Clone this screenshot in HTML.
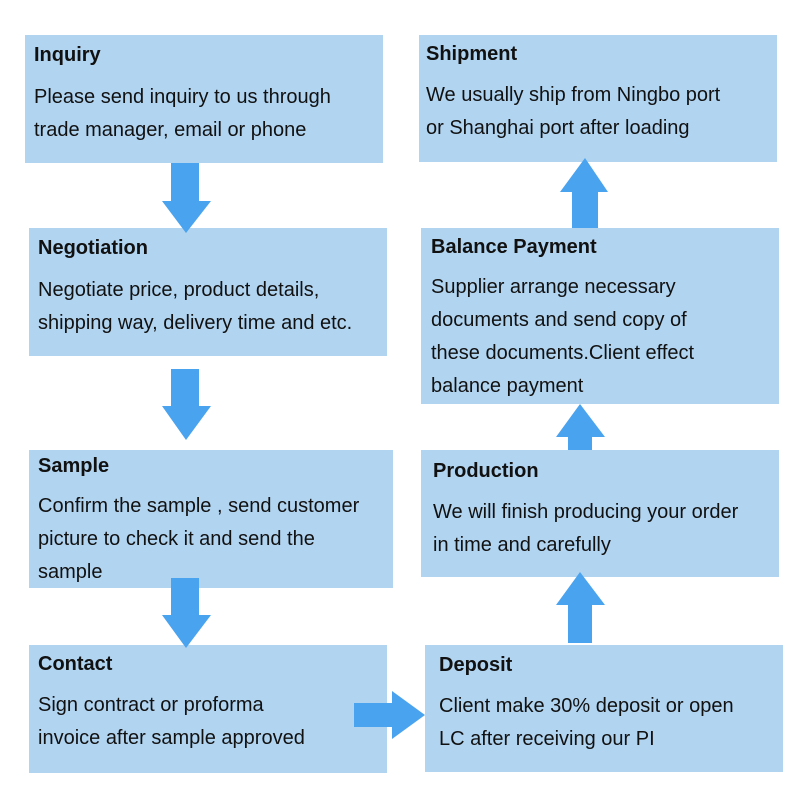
<!DOCTYPE html>
<html><head><style>
body{margin:0;width:800px;height:800px;background:#fff;position:relative;font-family:"Liberation Sans",Arial,sans-serif;overflow:hidden}
.b{position:absolute;background:#b1d4f1;color:#111;box-sizing:border-box;padding-left:9px}
.t{font-weight:bold;font-size:20px;position:absolute;left:9px}
.d{font-size:20px;line-height:33px;position:absolute;left:9px;white-space:nowrap}
svg{position:absolute;left:0;top:0}
</style></head><body>
<div class="b" style="left:25px;top:35px;width:358px;height:128px"><div class="t" style="top:9px">Inquiry</div><div class="d" style="top:46px">Please send inquiry to us through<br>trade manager, email or phone</div></div>
<div class="b" style="left:29px;top:228px;width:358px;height:128px"><div class="t" style="top:9px">Negotiation</div><div class="d" style="top:46px">Negotiate price, product details,<br>shipping way, delivery time and etc.</div></div>
<div class="b" style="left:29px;top:450px;width:364px;height:138px"><div class="t" style="top:5px">Sample</div><div class="d" style="top:40px">Confirm the sample , send customer<br>picture to check it and send the<br>sample</div></div>
<div class="b" style="left:29px;top:645px;width:358px;height:128px"><div class="t" style="top:8px">Contact</div><div class="d" style="top:44px">Sign contract or proforma<br>invoice after sample approved</div></div>
<div class="b" style="left:425px;top:645px;width:358px;height:127px"><div class="t" style="top:9px;left:14px">Deposit</div><div class="d" style="top:45px;left:14px">Client make 30% deposit or open<br>LC after receiving our PI</div></div>
<div class="b" style="left:421px;top:450px;width:358px;height:127px"><div class="t" style="top:10px;left:12px">Production</div><div class="d" style="top:46px;left:12px">We will finish producing your order<br>in time and carefully</div></div>
<div class="b" style="left:421px;top:228px;width:358px;height:176px"><div class="t" style="top:8px;left:10px">Balance Payment</div><div class="d" style="top:43px;left:10px">Supplier arrange necessary<br>documents and send copy of<br>these documents.Client effect<br>balance payment</div></div>
<div class="b" style="left:419px;top:35px;width:358px;height:127px"><div class="t" style="top:8px;left:7px">Shipment</div><div class="d" style="top:44px;left:7px">We usually ship from Ningbo port<br>or Shanghai port after loading</div></div>
<svg width="800" height="800" fill="#4aa3ee">
<polygon points="171,163 199,163 199,201 211,201 186,233 162,201 171,201"/>
<polygon points="171,369 199,369 199,406 211,406 186,440 162,406 171,406"/>
<polygon points="171,578 199,578 199,615 211,615 186,648 162,615 171,615"/>
<polygon points="354,703 392,703 392,691 425,715 392,739 392,727 354,727"/>
<polygon points="568,643 592,643 592,605 605,605 580,572 556,605 568,605"/>
<polygon points="568,450 592,450 592,437 605,437 580,404 556,437 568,437"/>
<polygon points="572,228 598,228 598,192 608,192 585,158 560,192 572,192"/>
</svg>
</body></html>
